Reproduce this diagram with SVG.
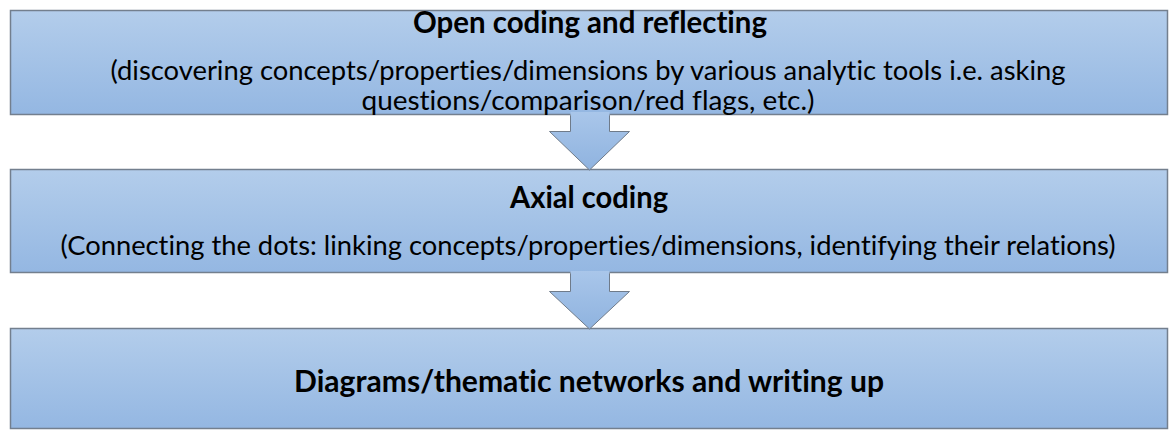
<svg xmlns="http://www.w3.org/2000/svg" width="1171" height="438" viewBox="0 0 1171 438">
  <defs>
    <linearGradient id="boxFill" x1="0" y1="0" x2="0" y2="1">
      <stop offset="0" stop-color="#b3cdeb"/>
      <stop offset="1" stop-color="#94b7e2"/>
    </linearGradient>
    <linearGradient id="arrowFill" x1="0" y1="0" x2="0" y2="1">
      <stop offset="0" stop-color="#a9c6ea"/>
      <stop offset="1" stop-color="#8fb3df"/>
    </linearGradient>
  </defs>
  <style>
    .box { fill: url(#boxFill); stroke: #737f8e; stroke-width: 1.5; }
    .arrow-fill { fill: url(#arrowFill); stroke: none; }
    .arrow-edge { fill: none; stroke: #6f7b8a; stroke-width: 1; }
    text { font-family: Lato, "Open Sans", sans-serif; fill: #000; text-anchor: middle; font-variant-ligatures: none; }
    .title { font-weight: bold; font-size: 29.5px; }
    .body { font-size: 27.5px; }
  </style>

  <rect width="1171" height="438" fill="#ffffff"/>

  <g id="open-coding">
    <rect class="box" x="10.5" y="10.5" width="1157" height="104"/>
  </g>

  <g id="axial-coding">
    <rect class="box" x="10.5" y="169.5" width="1157" height="103"/>
  </g>

  <g id="diagrams">
    <rect class="box" x="10.5" y="328.5" width="1157" height="100"/>
    <text class="title" x="589" y="392" textLength="590" lengthAdjust="spacingAndGlyphs">Diagrams/thematic networks and writing up</text>
  </g>

  <!-- block arrows: the stem runs up into the box above, so only its sides and head are outlined -->
  <g id="connectors">
    <g id="arrow-1">
      <path class="arrow-fill" d="M570.5 112 H609.5 V131.5 H629.5 L589.5 170 L549.5 131.5 H570.5 Z"/>
      <path class="arrow-edge" d="M570.5 115.25 V131.5 H549.5 L589.5 170 L629.5 131.5 H609.5 V115.25"/>
    </g>
    <g id="arrow-2">
      <path class="arrow-fill" d="M570.5 271 H609.5 V291.5 H629.5 L589.5 329 L549.5 291.5 H570.5 Z"/>
      <path class="arrow-edge" d="M570.5 273.25 V291.5 H549.5 L589.5 329 L629.5 291.5 H609.5 V273.25"/>
    </g>
  </g>

  <g id="open-coding-labels">
    <text class="title" x="590" y="33" textLength="354" lengthAdjust="spacingAndGlyphs">Open coding and reflecting</text>
    <text class="body" x="588" y="80" textLength="955" lengthAdjust="spacingAndGlyphs">(discovering concepts/properties/dimensions by various analytic tools i.e. asking</text>
    <text class="body" x="588" y="110" textLength="453" lengthAdjust="spacingAndGlyphs">questions/comparison/red flags, etc.)</text>
  </g>

  <g id="axial-coding-labels">
    <text class="title" x="589" y="208" textLength="158" lengthAdjust="spacingAndGlyphs">Axial coding</text>
    <text class="body" x="588" y="255" textLength="1055" lengthAdjust="spacingAndGlyphs">(Connecting the dots: linking concepts/properties/dimensions, identifying their relations)</text>
  </g>
</svg>
